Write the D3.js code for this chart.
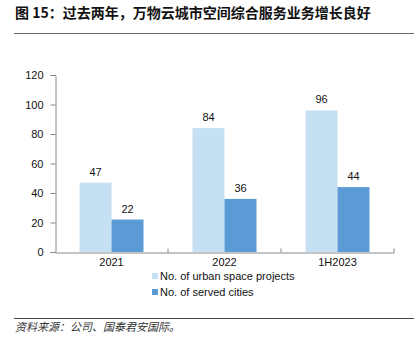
<!DOCTYPE html>
<html>
<head>
<meta charset="utf-8">
<script src="https://cdn.jsdelivr.net/npm/d3@7"></script>
<style>
body { margin: 0; background: #fff; }
svg { display: block; font-family: Arial, "Liberation Sans", sans-serif; }
</style>
</head>
<body>
<div id="chart"></div>
<script>
// data
var categories = ["2021", "2022", "1H2023"];
var seriesNames = ["No. of urban space projects", "No. of served cities"];
var projects = [47, 84, 96];
var cities = [22, 36, 44];
var yTicks = [0, 20, 40, 60, 80, 100, 120];
var colors = ["#c5e0f3", "#5b9bd5"];

var svg = d3.select("#chart").append("svg").attr("width", 414).attr("height", 339);

// title + rules
svg.append("text").attr("x", 15).attr("y", 18)
    .style("font-family", "'Noto Sans CJK SC', sans-serif")
    .style("font-size", "14px").style("font-weight", "bold").style("fill", "#111")
    .text("图 15：过去两年，万物云城市空间综合服务业务增长良好");
svg.append("line").attr("x1", 14).attr("x2", 414).attr("y1", 33.5).attr("y2", 33.5)
    .style("stroke", "#666").style("stroke-width", 1);
svg.append("line").attr("x1", 14).attr("x2", 414).attr("y1", 318.5).attr("y2", 318.5)
    .style("stroke", "#444").style("stroke-width", 1);
svg.append("text").attr("x", 15).attr("y", 331)
    .style("font-family", "'Noto Sans CJK SC', sans-serif")
    .style("font-size", "11px").style("font-style", "italic").style("fill", "#333")
    .text("资料来源：公司、国泰君安国际。");

// scales
var x = d3.scaleBand().domain(categories).range([55, 394]);
var y = d3.scaleLinear().domain([0, 120]).range([252, 75]);
var barW = 32;

// y axis
var yAxis = svg.append("g").attr("transform", "translate(55.5,0)")
    .call(d3.axisLeft(y).tickValues(yTicks).tickSize(5).tickPadding(7));
yAxis.selectAll("line, path").style("stroke", "#888");
yAxis.selectAll("text").style("font-size", "11px").style("fill", "#111").style("font-family", "Arial, 'Liberation Sans', sans-serif");

// bars
var groups = svg.append("g").selectAll("g").data(categories).enter().append("g");
groups.append("rect")
    .attr("x", function(d) { return x(d) + x.bandwidth() / 2 - barW; })
    .attr("y", function(d, i) { return y(projects[i]); })
    .attr("width", barW)
    .attr("height", function(d, i) { return y(0) - y(projects[i]); })
    .style("fill", colors[0]);
groups.append("rect")
    .attr("x", function(d) { return x(d) + x.bandwidth() / 2; })
    .attr("y", function(d, i) { return y(cities[i]); })
    .attr("width", barW)
    .attr("height", function(d, i) { return y(0) - y(cities[i]); })
    .style("fill", colors[1]);

// value labels
groups.append("text")
    .attr("x", function(d) { return x(d) + x.bandwidth() / 2 - barW / 2; })
    .attr("y", function(d, i) { return y(projects[i]) - 7; })
    .attr("text-anchor", "middle").style("font-size", "11px").style("fill", "#111")
    .text(function(d, i) { return projects[i]; });
groups.append("text")
    .attr("x", function(d) { return x(d) + x.bandwidth() / 2 + barW / 2; })
    .attr("y", function(d, i) { return y(cities[i]) - 7; })
    .attr("text-anchor", "middle").style("font-size", "11px").style("fill", "#111")
    .text(function(d, i) { return cities[i]; });

// x axis
var xAxis = svg.append("g").attr("transform", "translate(0,252.5)")
    .call(d3.axisBottom(x).tickSize(0).tickPadding(6));
xAxis.select("path").style("stroke", "#888");
xAxis.selectAll("text").style("font-size", "11px").style("fill", "#111").style("font-family", "Arial, 'Liberation Sans', sans-serif");
// boundary ticks between categories
xAxis.selectAll(".sep").data(categories).enter().append("line")
    .attr("x1", function(d) { return x(d) + x.bandwidth(); })
    .attr("x2", function(d) { return x(d) + x.bandwidth(); })
    .attr("y1", 0).attr("y2", -4)
    .style("stroke", "#888");

// legend
var legend = svg.append("g").selectAll("g").data(seriesNames).enter().append("g")
    .attr("transform", function(d, i) { return "translate(152," + (273 + i * 16) + ")"; });
legend.append("rect").attr("width", 6).attr("height", 6)
    .style("fill", function(d, i) { return colors[i]; });
legend.append("text").attr("x", 8).attr("y", 7)
    .style("font-size", "11px").style("fill", "#111")
    .text(function(d) { return d; });
</script>
</body>
</html>
